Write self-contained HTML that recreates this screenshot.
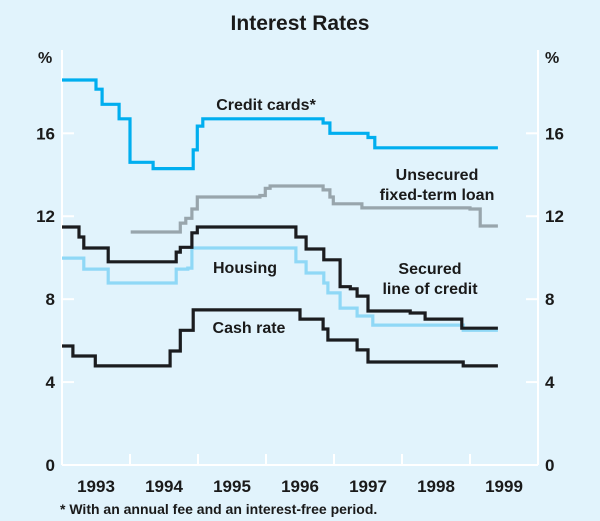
<!DOCTYPE html>
<html><head><meta charset="utf-8">
<style>
html,body{margin:0;padding:0;background:#e1f3fc;}
svg{display:block;font-family:"Liberation Sans",Arial,sans-serif;}
</style></head>
<body>
<svg id="chart" width="600" height="521" viewBox="0 0 600 521">
<rect x="0" y="0" width="600" height="521" fill="#e1f3fc"/>
<text x="300" y="30" text-anchor="middle" font-size="21" font-weight="bold" fill="#1a1a1a">Interest Rates</text>
<g id="axes"></g>
<g id="series"></g>
<g font-size="16" font-weight="bold" fill="#1a1a1a" text-anchor="middle">
<text x="266" y="110">Credit cards*</text>
<text x="437" y="180">Unsecured</text>
<text x="437" y="200">fixed-term loan</text>
<text x="245" y="273">Housing</text>
<text x="430" y="274">Secured</text>
<text x="430" y="294">line of credit</text>
<text x="249" y="333">Cash rate</text>
</g>
<text x="60" y="514" font-size="14" font-weight="bold" fill="#1a1a1a">* With an annual fee and an interest-free period.</text>
</svg>
<script>
const yearLabels = ["1993","1994","1995","1996","1997","1998","1999"];
const yTicks = [0,4,8,12,16];
const endDate = 1999.41;
const creditDates = [1993.0,1993.5,1993.59,1993.84,1994.0,1994.34,1994.93,1994.99,1995.07,1996.84,1996.94,1997.5,1997.6];
const creditValues = [18.57,18.13,17.4,16.7,14.6,14.3,15.2,16.35,16.7,16.5,16.0,15.8,15.3];
const unsecDates = [1994.01,1994.74,1994.82,1994.91,1994.99,1995.91,1995.99,1996.06,1996.84,1996.94,1996.99,1997.41,1999.0,1999.15];
const unsecValues = [11.24,11.67,11.9,12.35,12.93,13.0,13.35,13.46,13.27,12.93,12.6,12.4,12.35,11.53];
const securedDates = [1993.0,1993.25,1993.32,1993.68,1994.68,1994.74,1994.91,1994.99,1996.44,1996.59,1996.85,1997.09,1997.24,1997.34,1997.5,1998.12,1998.34,1998.88];
const securedValues = [11.48,11.0,10.47,9.8,10.27,10.5,11.2,11.48,11.0,10.42,9.9,8.6,8.5,8.15,7.43,7.33,7.04,6.6];
const housingDates = [1993.0,1993.32,1993.68,1994.68,1994.85,1994.91,1996.44,1996.59,1996.85,1996.91,1997.09,1997.34,1997.57,1998.9];
const housingValues = [9.98,9.45,8.78,9.45,9.5,10.47,9.8,9.26,8.78,8.3,7.57,7.19,6.75,6.5];
const cashDates = [1993.0,1993.16,1993.49,1994.59,1994.74,1994.93,1996.5,1996.84,1996.91,1997.34,1997.5,1998.9];
const cashValues = [5.74,5.26,4.78,5.5,6.5,7.48,7.04,6.56,6.03,5.55,4.97,4.78];

const NS="http://www.w3.org/2000/svg";
const X0=62, X1=538, Y0=465, YPU=20.73;
function xScale(t){return X0+(t-1993)*68;}
function yScale(v){return Y0-v*YPU;}
function mk(tag,attrs,parent){const e=document.createElementNS(NS,tag);for(const k in attrs)e.setAttribute(k,attrs[k]);parent.appendChild(e);return e;}

const axes=document.getElementById('axes');
const fg="#1a1a1a";
let a=mk('line',{x1:X0,y1:50,x2:X0,y2:Y0,stroke:'#fff','stroke-width':2},axes);


a=mk('line',{x1:X1,y1:50,x2:X1,y2:Y0,stroke:'#fff','stroke-width':2},axes);


a=mk('line',{x1:X0,y1:Y0,x2:X1,y2:Y0,stroke:'#fff','stroke-width':2},axes);


yTicks.forEach(v=>{
  const y=yScale(v);
  if(v>0){
    let t=mk('line',{x1:X0,y1:y,x2:X0+12,y2:y,stroke:'#fff','stroke-width':2},axes);
    
    
    t=mk('line',{x1:X1-12,y1:y,x2:X1,y2:y,stroke:'#fff','stroke-width':2},axes);
    
    
  }
  let l=mk('text',{x:55,y:y+6,'text-anchor':'end','font-size':17,'font-weight':'bold',fill:fg},axes);
  l.textContent=v;
  
  
  l=mk('text',{x:545,y:y+6,'font-size':17,'font-weight':'bold',fill:fg},axes);
  l.textContent=v;
  
  
});
let p=mk('text',{x:38,y:63,'font-size':16,'font-weight':'bold',fill:fg},axes);p.textContent='%';


p=mk('text',{x:545,y:63,'font-size':16,'font-weight':'bold',fill:fg},axes);p.textContent='%';


yearLabels.forEach((yl,i)=>{
  const xs=xScale(1993+i);
  if(i>0){
    const t=mk('line',{x1:xs,y1:Y0,x2:xs,y2:Y0-11,stroke:'#fff','stroke-width':2},axes);
    
    
  }
  const l=mk('text',{x:xScale(1993.5+i),y:492,'text-anchor':'middle','font-size':17,'font-weight':'bold',fill:fg},axes);
  l.textContent=yl;
  
  
});

const ser=document.getElementById('series');
function stepPath(dates,vals){
  let d='';
  for(let i=0;i<dates.length;i++){
    const x=xScale(dates[i]), y=yScale(vals[i]);
    const xn=xScale(i+1<dates.length?dates[i+1]:endDate);
    d+=(i===0?'M':'L')+x.toFixed(1)+' '+y.toFixed(1)+' L'+xn.toFixed(1)+' '+y.toFixed(1)+' ';
  }
  return d;
}
function drawSeries(dates,vals,color,name){
  const e=mk('path',{d:stepPath(dates,vals),fill:'none',stroke:color,'stroke-width':3.2,'stroke-linejoin':'miter'},ser);
  
  
}
drawSeries(unsecDates,unsecValues,'#98a5ac','unsecured-loan-line');
drawSeries(housingDates,housingValues,'#8fd8f6','housing-line');
drawSeries(securedDates,securedValues,'#1b1c1f','secured-line-of-credit-line');
drawSeries(cashDates,cashValues,'#1b1c1f','cash-rate-line');
drawSeries(creditDates,creditValues,'#00aeef','credit-cards-line');
</script>
</body></html>
